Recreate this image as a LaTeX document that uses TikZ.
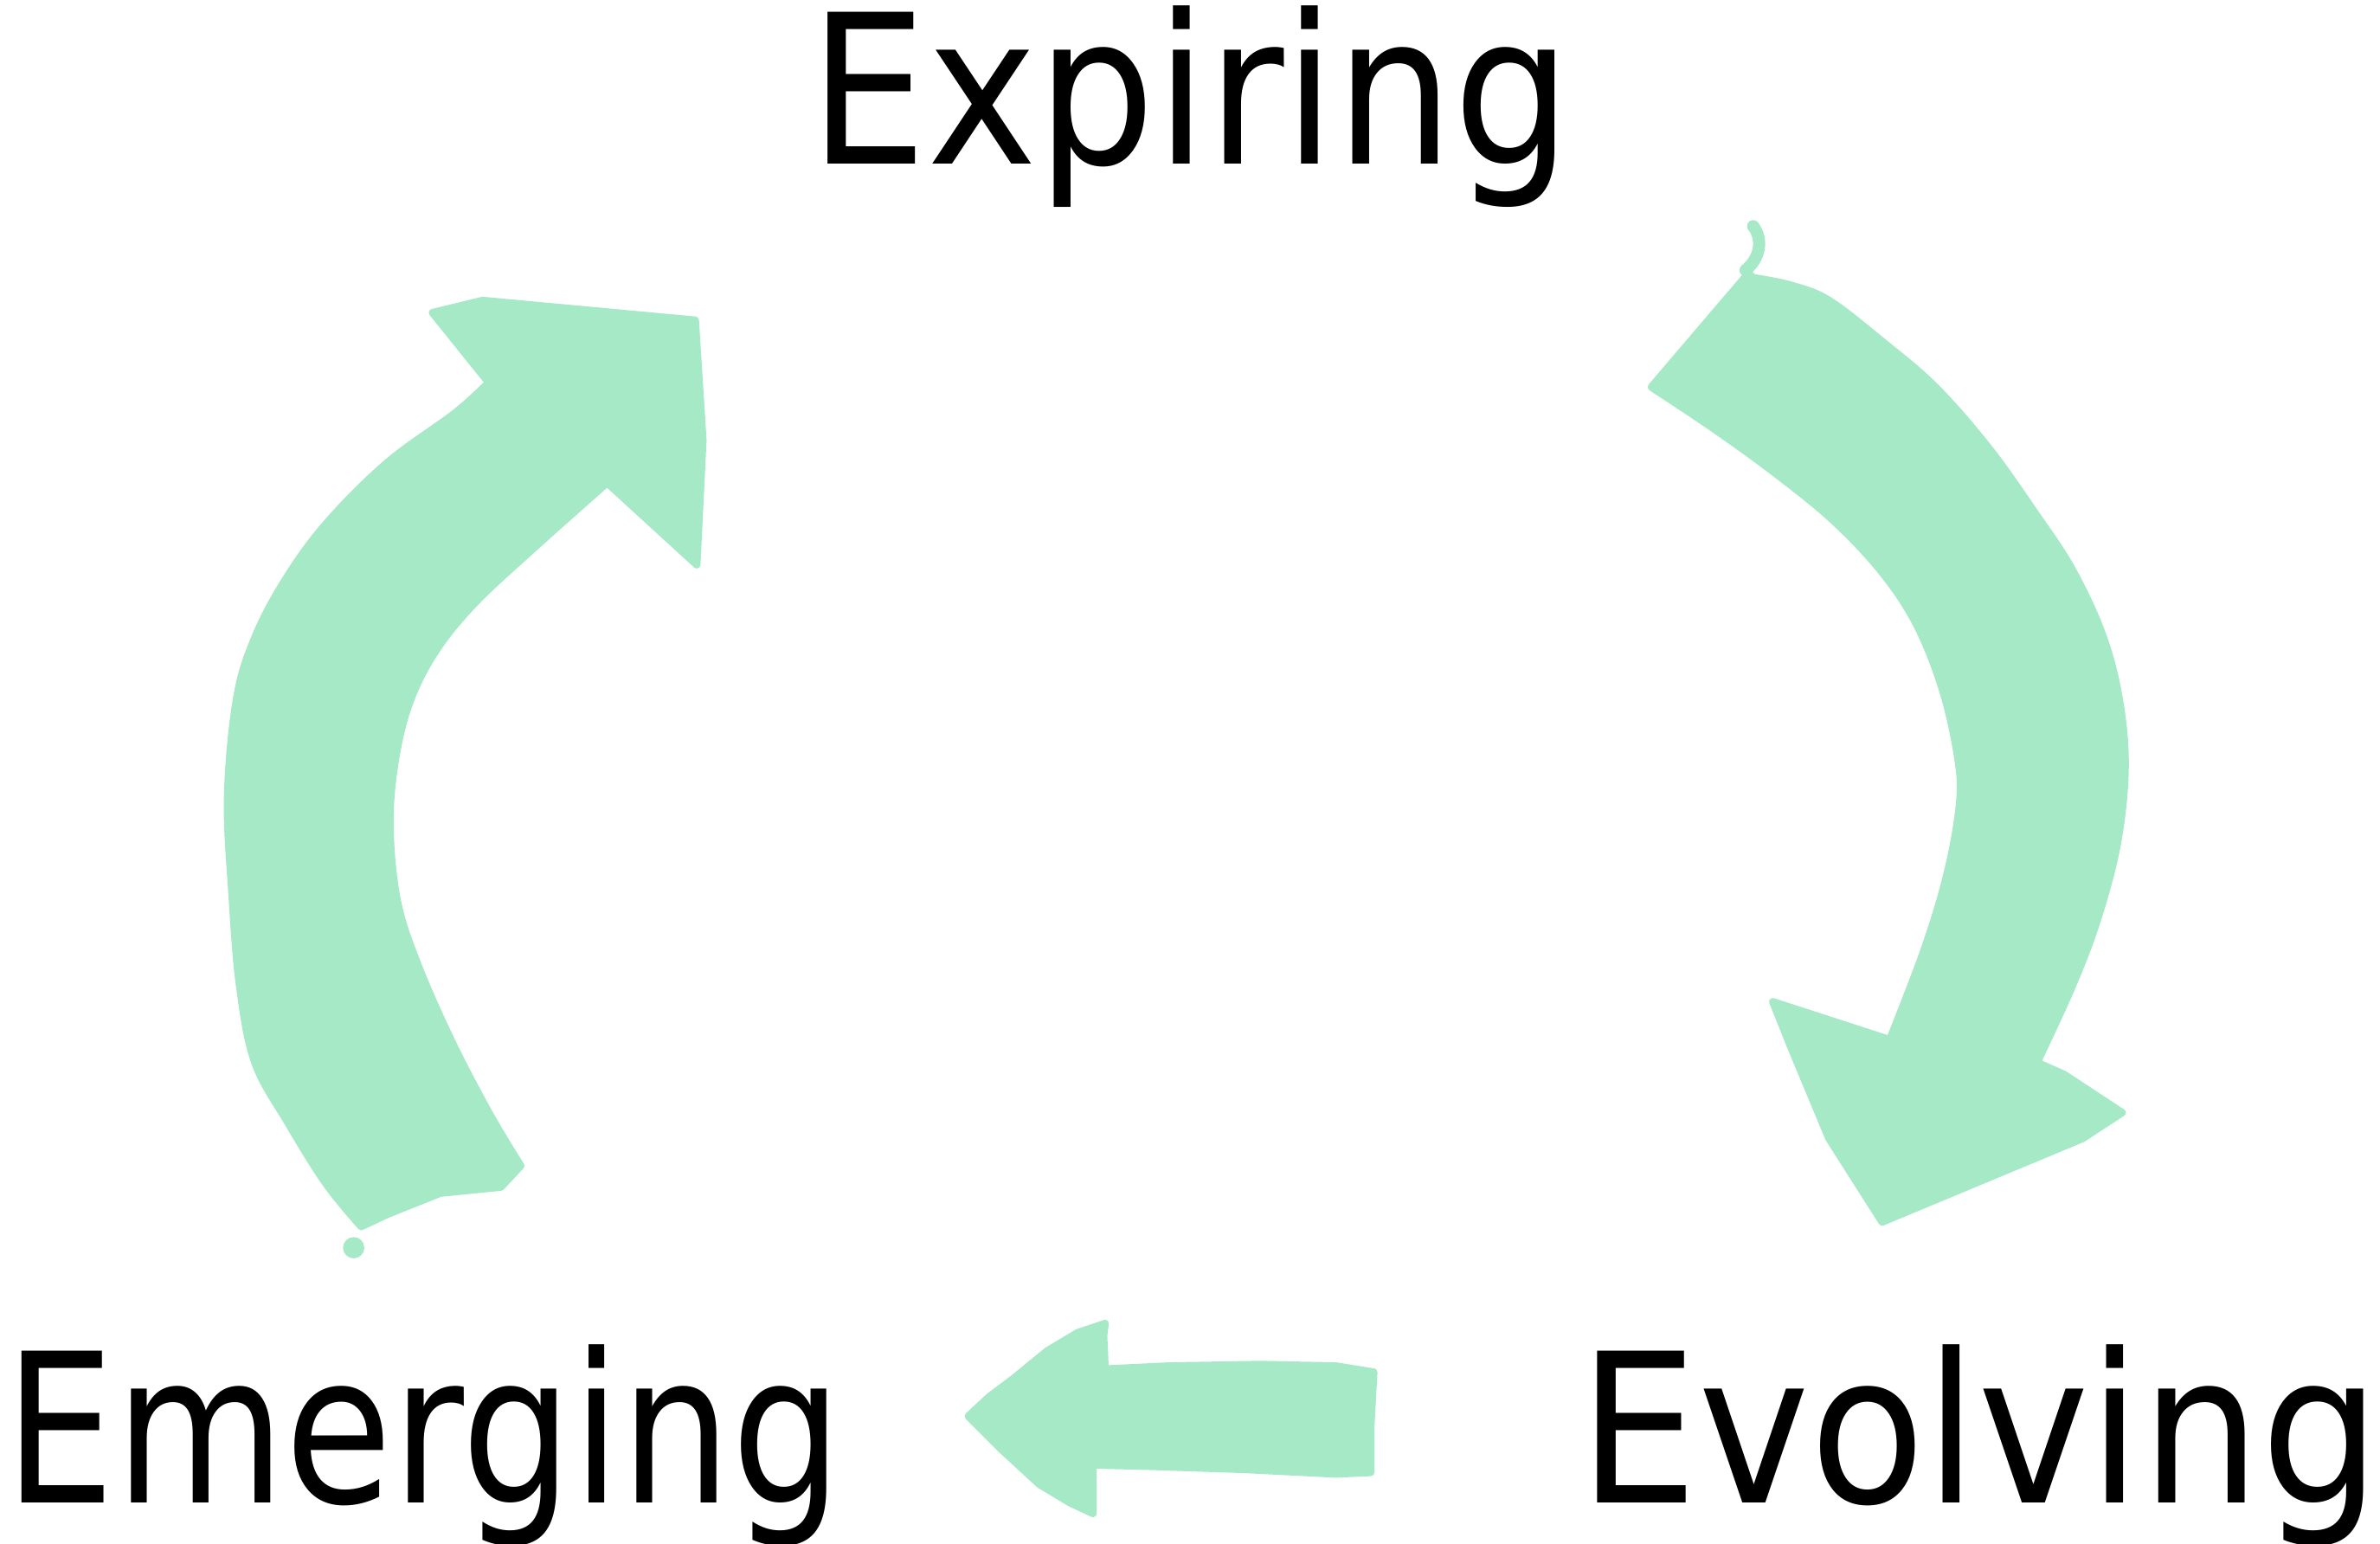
\documentclass[tikz,border=0pt]{standalone}
\usepackage{fontspec}
\setmainfont{DejaVu Sans}
\usepackage{graphicx}
\definecolor{sketchgreen}{RGB}{165,233,198}
\begin{document}
\begin{tikzpicture}[x=0.5pt,y=-0.5pt,
  lbl/.style={anchor=base west, inner sep=0pt, font=\fontsize{68.6pt}{72pt}\selectfont},
  sketch/.style={fill=sketchgreen, draw=sketchgreen, line width=2.5pt, line join=round, line cap=round}]
\useasboundingbox (0,0) rectangle (1568,1017);

% labels
\node[lbl] (expiring) at (533,108) {\scalebox{0.894}[1]{Expiring}};
\node[lbl] (emerging) at (3,990) {\scalebox{0.838}[1]{Emerging}};
\node[lbl] (evolving) at (1040,990) {\scalebox{0.905}[1]{Evolving}};

% left arrow: Emerging -> Expiring
\path[sketch] (285,206) -- (318,198) -- (458,211) -- (463,290) -- (459,372)
  -- (400,318)
  -- plot[smooth, tension=0.6] coordinates {(400,318) (355,358) (312,398) (285,432) (268,468) (259,510) (257,550) (262,595) (275,635) (297,685) (322,733) (343,768)}
  -- (330,782) -- (290,786) -- (255,800) -- (238,808)
  -- plot[smooth, tension=0.6] coordinates {(238,808) (215,780) (190,740) (168,700) (158,650) (153,590) (150,525) (156,460) (168,420) (188,382) (215,345) (255,305) (300,272) (322,252)}
  -- cycle;
\fill[sketchgreen] (233,822) circle (7);

% right arrow: Expiring -> Evolving
\path[sketch] (1152,180) -- (1088,255)
  -- plot[smooth, tension=0.6] coordinates {(1088,255) (1130,283) (1170,312) (1208,343) (1240,377) (1263,412) (1280,455) (1290,500) (1291,530) (1283,575) (1268,625) (1245,685)}
  -- (1168,660) -- (1180,690) -- (1205,750) -- (1240,805) -- (1372,750) -- (1398,733) -- (1360,708) -- (1342,700)
  -- plot[smooth, tension=0.6] coordinates {(1342,700) (1365,650) (1382,605) (1395,555) (1400,505) (1396,460) (1385,418) (1365,375) (1340,337) (1310,295) (1275,255) (1240,225) (1205,198) (1180,188) (1155,183)}
  -- cycle;
\draw[sketchgreen, line width=4pt, line cap=round] (1150,178) .. controls (1162,168) and (1160,155) .. (1155,149);

% bottom arrow: Evolving -> Emerging
\path[sketch] (905,904) -- (880,900) -- (830,899) -- (770,900) -- (728,902) -- (727,880) -- (728,872)
  -- (710,878) -- (690,890) -- (668,908) -- (652,920) -- (638,933)
  -- (660,955) -- (685,978) -- (705,990) -- (720,997) -- (720,965)
  -- (760,966) -- (820,968) -- (880,971) -- (903,970) -- (903,940) -- cycle;
\end{tikzpicture}
\end{document}
